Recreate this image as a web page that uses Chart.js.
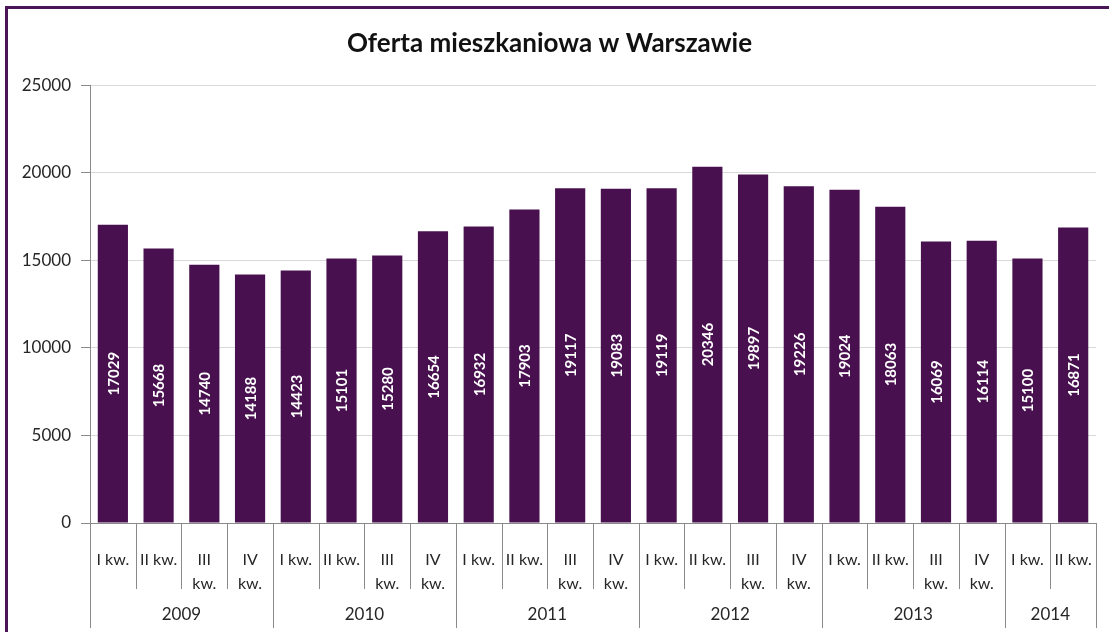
<!DOCTYPE html>
<html>
<head>
<meta charset="utf-8">
<script src="https://cdn.jsdelivr.net/npm/chart.js@4/dist/chart.umd.min.js"></script>
<style>
    body { margin: 0; background: #fff; overflow: hidden; }
    #frame { position: absolute; left: 5px; top: 6px; width: 1200px; height: 700px; border: 3px solid #4b1656; }
    #chart { position: absolute; left: 0; top: 0; }
</style>
</head>
<body>
<div id="frame"></div>
<canvas id="chart" width="1109" height="632"></canvas>
<script>
const quarters = ['I kw.', 'II kw.', ['III', 'kw.'], ['IV', 'kw.']];
const years = ['2009', '2009', '2009', '2009', '2010', '2010', '2010', '2010',
    '2011', '2011', '2011', '2011', '2012', '2012', '2012', '2012',
    '2013', '2013', '2013', '2013', '2014', '2014'];
const categories = years.map((y, i) => quarters[i % 4]);
const offerValues = [17029, 15668, 14740, 14188, 14423, 15101, 15280, 16654,
    16932, 17903, 19117, 19083, 19119, 20346, 19897, 19226,
    19024, 18063, 16069, 16114, 15100, 16871];
const yTicks = [0, 5000, 10000, 15000, 20000, 25000];

const barColor = '#48104f';
const axisColor = '#8a8a8a';
const textColor = '#262626';

Chart.defaults.font.family = 'Lato';

// separators between categories + year row + value labels inside bars
const extrasPlugin = {
    id: 'extras',
    afterDraw(chart) {
        const ctx = chart.ctx;
        const xs = chart.scales.x;
        const area = chart.chartArea;
        const n = categories.length;
        const edge = i => {
            if (i === 0) return area.left;
            if (i === n) return area.right;
            return (xs.getPixelForValue(i - 1) + xs.getPixelForValue(i)) / 2;
        };
        ctx.save();
        ctx.strokeStyle = axisColor;
        ctx.lineWidth = 1;
        for (let i = 0; i <= n; i++) {
            const longLine = i === 0 || i === n || years[i] !== years[i - 1];
            const px = Math.round(edge(i)) + 0.5;
            ctx.beginPath();
            ctx.moveTo(px, area.bottom);
            ctx.lineTo(px, area.bottom + (longLine ? 105 : 66));
            ctx.stroke();
        }
        // year labels
        ctx.fillStyle = textColor;
        ctx.font = '17px Lato';
        ctx.textAlign = 'center';
        ctx.textBaseline = 'middle';
        let start = 0;
        for (let i = 1; i <= n; i++) {
            if (i === n || years[i] !== years[start]) {
                ctx.fillText(years[start], (edge(start) + edge(i)) / 2, area.bottom + 92);
                start = i;
            }
        }
        // values inside bars
        ctx.fillStyle = '#ffffff';
        ctx.font = 'bold 15px Lato';
        chart.getDatasetMeta(0).data.forEach((bar, i) => {
            ctx.save();
            ctx.translate(bar.x, (bar.y + bar.base) / 2);
            ctx.rotate(-Math.PI / 2);
            ctx.fillText(String(offerValues[i]), 0, 1);
            ctx.restore();
        });
        ctx.restore();
    }
};

new Chart(document.getElementById('chart'), {
    type: 'bar',
    data: {
        labels: categories,
        datasets: [{
            data: offerValues,
            backgroundColor: barColor,
            borderWidth: 0,
            barPercentage: 0.66,
            categoryPercentage: 1
        }]
    },
    options: {
        responsive: false,
        animation: false,
        layout: { padding: { left: 0, right: 10, top: 0, bottom: 0 } },
        plugins: {
            legend: { display: false },
            tooltip: { enabled: false },
            title: {
                display: true,
                text: 'Oferta mieszkaniowa w Warszawie',
                color: '#111',
                font: { size: 26, weight: 'bold', lineHeight: 1.2 },
                padding: { top: 28, bottom: 26 }
            }
        },
        scales: {
            x: {
                offset: true,
                grid: { display: false },
                border: { display: true, color: axisColor },
                ticks: {
                    color: textColor,
                    font: { size: 16, lineHeight: 1.5 },
                    padding: 17,
                    maxRotation: 0,
                    autoSkip: false
                },
                afterFit: s => { s.height = 109; }
            },
            y: {
                min: 0,
                max: 25000,
                afterBuildTicks: s => { s.ticks = yTicks.map(v => ({ value: v })); },
                grid: { color: '#d9d9d9', tickColor: axisColor, tickLength: 9 },
                border: { display: true, color: axisColor },
                ticks: { color: textColor, font: { size: 17 }, padding: 10, callback: v => String(v) },
                afterFit: s => { s.width = 90; }
            }
        }
    },
    plugins: [extrasPlugin]
});
</script>
</body>
</html>
